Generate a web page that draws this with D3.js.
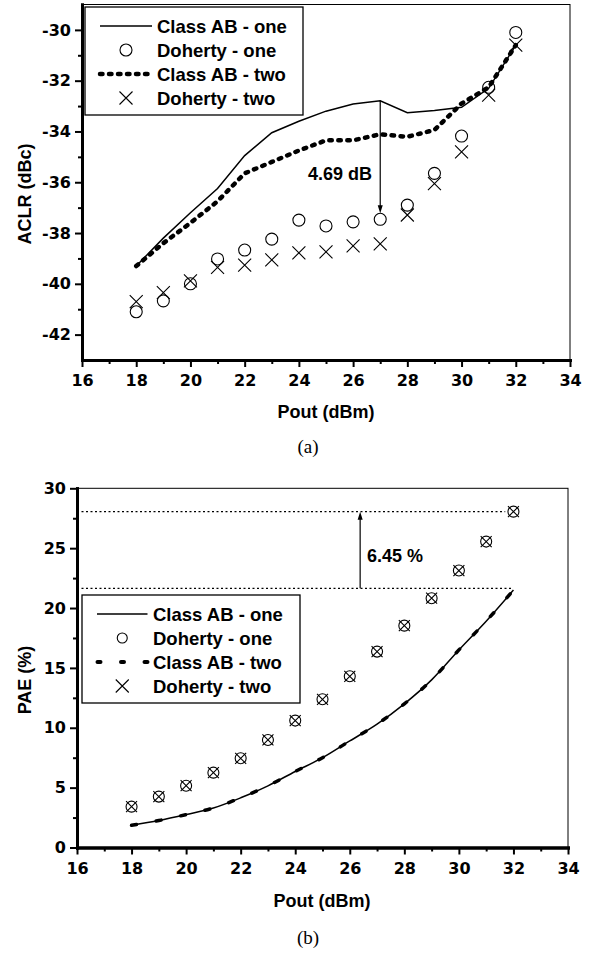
<!DOCTYPE html>
<html>
<head>
<meta charset="utf-8">
<script src="https://cdn.jsdelivr.net/npm/d3@7"></script>
<style>
body { margin: 0; background: #fff; }
svg text { font-family: "Liberation Sans", Arial, sans-serif; font-weight: bold; font-size: 18px; fill: #000; }
svg .tick text { font-family: "DejaVu Sans", sans-serif; font-size: 16px; }
svg text.legend-label { font-size: 18.5px; }
svg text.caption { font-family: "Liberation Serif", "Times New Roman", serif; font-weight: normal; font-size: 19px; }
</style>
</head>
<body>
<svg id="fig" width="590" height="954"></svg>
<script>
// Output power (dBm), shared by both panels
const pout = [18, 19, 20, 21, 22, 23, 24, 25, 26, 27, 28, 29, 30, 31, 32];

// (a) ACLR (dBc)
const aclrClassAbOne = [-39.3, -38.2, -37.2, -36.25, -34.95, -34.05, -33.6, -33.2, -32.92, -32.79, -33.26, -33.17, -33.05, -32.3, -30.6];
const aclrDohertyOne = [-41.1, -40.67, -40.0, -39.02, -38.67, -38.24, -37.49, -37.72, -37.56, -37.46, -36.9, -35.65, -34.18, -32.26, -30.1];
const aclrClassAbTwo = [-39.3, -38.4, -37.6, -36.75, -35.65, -35.2, -34.75, -34.35, -34.35, -34.11, -34.21, -33.94, -32.9, -32.26, -30.6];
const aclrDohertyTwo = [-40.7, -40.35, -39.88, -39.35, -39.26, -39.06, -38.78, -38.74, -38.51, -38.43, -37.29, -36.05, -34.8, -32.57, -30.6];

// (b) PAE (%)
const paeClassAbOne = [1.85, 2.25, 2.75, 3.3, 4.15, 5.15, 6.35, 7.5, 8.9, 10.3, 12.0, 14.0, 16.5, 18.9, 21.5];
const paeClassAbTwo = [1.85, 2.25, 2.75, 3.3, 4.15, 5.15, 6.35, 7.5, 8.9, 10.3, 12.0, 14.0, 16.5, 18.9, 21.5];
const paeDohertyOne = [3.41, 4.25, 5.16, 6.25, 7.45, 8.98, 10.6, 12.38, 14.3, 16.36, 18.53, 20.82, 23.13, 25.55, 28.05];
const paeDohertyTwo = [3.41, 4.25, 5.16, 6.25, 7.45, 8.98, 10.6, 12.38, 14.3, 16.36, 18.53, 20.82, 23.13, 25.55, 28.05];

// tick values
const xMajorTicks = [16, 18, 20, 22, 24, 26, 28, 30, 32, 34];
const xMinorTicks = [17, 19, 21, 23, 25, 27, 29, 31, 33];
const aclrMajorTicks = [-42, -40, -38, -36, -34, -32, -30];
const aclrMinorTicks = [-41, -39, -37, -35, -33, -31];
const paeMajorTicks = [0, 5, 10, 15, 20, 25, 30];
const paeMinorTicks = [2.5, 7.5, 12.5, 17.5, 22.5, 27.5];

const legendLabels = ["Class AB - one", "Doherty - one", "Class AB - two", "Doherty - two"];

// annotations: [x, from, to]
const aclrGap = [27, -32.79, -37.46];
const paeGap = [26.38, 21.65, 28.05];

const svg = d3.select("#fig");

function drawAxes(cfg) {
    const x = d3.scaleLinear().domain(cfg.xDomain).range(cfg.xRange);
    const y = d3.scaleLinear().domain(cfg.yDomain).range(cfg.yRange);
    const g = svg.append("g");

    // thin frame for top / right
    g.append("rect")
        .attr("x", cfg.xRange[0])
        .attr("y", cfg.yRange[1])
        .attr("width", cfg.xRange[1] - cfg.xRange[0])
        .attr("height", cfg.yRange[0] - cfg.yRange[1])
        .attr("fill", "none")
        .attr("stroke", "#000")
        .attr("stroke-width", 1);

    const fmt = d => String(d);
    const bottom = y.range()[0], left = x.range()[0];

    g.append("g").attr("transform", `translate(0,${bottom})`)
        .call(d3.axisBottom(x).tickValues(xMinorTicks).tickSize(4).tickSizeOuter(0).tickFormat(""));
    g.append("g").attr("transform", `translate(${left},0)`)
        .call(d3.axisLeft(y).tickValues(cfg.yMinor).tickSize(4).tickSizeOuter(0).tickFormat(""));
    g.append("g").attr("transform", `translate(0,${bottom})`)
        .call(d3.axisBottom(x).tickValues(xMajorTicks).tickSize(7).tickPadding(8).tickSizeOuter(0).tickFormat(fmt));
    g.append("g").attr("transform", `translate(${left},0)`)
        .call(d3.axisLeft(y).tickValues(cfg.yMajor).tickSize(7).tickPadding(4).tickSizeOuter(0).tickFormat(fmt));

    g.selectAll(".domain").attr("stroke-width", 3).attr("stroke-linecap", "square");
    g.selectAll(".tick line").attr("stroke-width", 2);

    // axis titles
    g.append("text")
        .attr("x", cfg.xTitle[0]).attr("y", cfg.xTitle[1])
        .attr("text-anchor", "middle")
        .text("Pout (dBm)");
    g.append("text")
        .attr("transform", `translate(${cfg.yTitle[0]},${cfg.yTitle[1]}) rotate(-90)`)
        .attr("text-anchor", "middle")
        .text(cfg.yLabel);
    g.append("text")
        .classed("caption", true)
        .attr("x", cfg.caption[0]).attr("y", cfg.caption[1])
        .attr("text-anchor", "middle")
        .text(cfg.captionText);

    return {x, y};
}

function circleMarks(pts, r) {
    svg.append("g").selectAll("circle").data(pts).join("circle")
        .attr("cx", d => d[0]).attr("cy", d => d[1]).attr("r", r)
        .attr("fill", "none").attr("stroke", "#000").attr("stroke-width", 1.1);
}

function crossMarks(pts, s) {
    svg.append("g").selectAll("path").data(pts).join("path")
        .attr("d", d => `M${d[0] - s},${d[1] - s}L${d[0] + s},${d[1] + s}M${d[0] - s},${d[1] + s}L${d[0] + s},${d[1] - s}`)
        .attr("fill", "none").attr("stroke", "#000").attr("stroke-width", 1.1);
}

function legend(box, rows, textX, sampleX, styles) {
    const g = svg.append("g");
    g.append("rect")
        .attr("x", box[0]).attr("y", box[1])
        .attr("width", box[2] - box[0]).attr("height", box[3] - box[1])
        .attr("fill", "#fff").attr("stroke", "#000").attr("stroke-width", 1.3);
    const mid = (sampleX[0] + sampleX[1]) / 2;
    legendLabels.forEach((label, i) => {
        const yy = rows[i];
        const st = styles[i];
        if (st.type === "line") {
            g.append("line")
                .attr("x1", st.x0 || sampleX[0]).attr("x2", sampleX[1])
                .attr("y1", yy).attr("y2", yy)
                .attr("stroke", "#000")
                .attr("stroke-width", st.width)
                .attr("stroke-dasharray", st.dash || null)
                .attr("stroke-linecap", st.cap || "butt");
        } else if (st.type === "circle") {
            g.append("circle").attr("cx", mid).attr("cy", yy).attr("r", st.size)
                .attr("fill", "none").attr("stroke", "#000").attr("stroke-width", 1.1);
        } else {
            const s = st.size;
            g.append("path")
                .attr("d", `M${mid - s},${yy - s}L${mid + s},${yy + s}M${mid - s},${yy + s}L${mid + s},${yy - s}`)
                .attr("stroke", "#000").attr("stroke-width", 1.1);
        }
        g.append("text").classed("legend-label", true)
            .attr("x", textX).attr("y", yy + 6.5).text(label);
    });
}

function arrow(x0, y0, y1) {
    // vertical line from y0 to y1 with head at y1
    const dir = y1 > y0 ? 1 : -1;
    svg.append("line")
        .attr("x1", x0).attr("x2", x0).attr("y1", y0).attr("y2", y1 - dir * 4)
        .attr("stroke", "#000").attr("stroke-width", 1.2);
    svg.append("path")
        .attr("d", `M${x0},${y1}L${x0 - 2.5},${y1 - dir * 8}L${x0 + 2.5},${y1 - dir * 8}Z`)
        .attr("fill", "#000");
}

// ---------- panel (a) ----------
const a = drawAxes({
    xDomain: [16, 34], xRange: [82, 570],
    yDomain: [-43, -29], yRange: [360, 4.5],
    yMajor: aclrMajorTicks, yMinor: aclrMinorTicks,
    xTitle: [326, 418], yTitle: [31, 194], yLabel: "ACLR (dBc)",
    caption: [308, 453], captionText: "(a)"
});

const lineA = d3.line().x(d => a.x(d[0])).y(d => a.y(d[1]));
svg.append("path")
    .datum(pout.map((p, i) => [p, aclrClassAbOne[i]]))
    .attr("d", lineA)
    .attr("fill", "none").attr("stroke", "#000").attr("stroke-width", 1.5);
svg.append("path")
    .datum(pout.map((p, i) => [p, aclrClassAbTwo[i]]))
    .attr("d", lineA)
    .attr("fill", "none").attr("stroke", "#000").attr("stroke-width", 4.5)
    .attr("stroke-dasharray", "2.5,6.5").attr("stroke-linecap", "round");
circleMarks(pout.map((p, i) => [a.x(p), a.y(aclrDohertyOne[i])]), 6);
crossMarks(pout.map((p, i) => [a.x(p), a.y(aclrDohertyTwo[i])]), 6.5);

arrow(a.x(aclrGap[0]), a.y(aclrGap[1]), a.y(aclrGap[2]) - 6);
svg.append("text")
    .attr("x", 372).attr("y", 179.5)
    .attr("text-anchor", "end")
    .text("4.69 dB");

legend([85, 7, 303, 115], [26, 50, 74, 98], 157, [100, 152], [
    {type: "line", width: 1.5},
    {type: "circle", size: 6},
    {type: "line", width: 4.5, dash: "2.5,6.5", cap: "round"},
    {type: "cross", size: 6.5}
]);

// ---------- panel (b) ----------
const b = drawAxes({
    xDomain: [16, 34], xRange: [77, 568],
    yDomain: [0, 30], yRange: [847.5, 488.3],
    yMajor: paeMajorTicks, yMinor: paeMinorTicks,
    xTitle: [322, 907], yTitle: [31, 680], yLabel: "PAE (%)",
    caption: [308, 944], captionText: "(b)"
});

// reference dotted lines
svg.append("line")
    .attr("x1", b.x(16)).attr("x2", b.x(31.7))
    .attr("y1", b.y(paeGap[2])).attr("y2", b.y(paeGap[2]))
    .attr("stroke", "#000").attr("stroke-width", 1.2).attr("stroke-dasharray", "2,2.5");
svg.append("line")
    .attr("x1", b.x(16)).attr("x2", b.x(32))
    .attr("y1", b.y(paeGap[1])).attr("y2", b.y(paeGap[1]))
    .attr("stroke", "#000").attr("stroke-width", 1.2).attr("stroke-dasharray", "2,2.5");
arrow(b.x(paeGap[0]), b.y(paeGap[1]), b.y(paeGap[2]));
svg.append("text")
    .attr("x", 367).attr("y", 561.5)
    .text("6.45 %");

const lineB = d3.line().x(d => b.x(d[0])).y(d => b.y(d[1])).curve(d3.curveMonotoneX);
svg.append("path")
    .datum(pout.map((p, i) => [p, paeClassAbOne[i]]))
    .attr("d", lineB)
    .attr("fill", "none").attr("stroke", "#000").attr("stroke-width", 1.5);
svg.append("path")
    .datum(pout.map((p, i) => [p, paeClassAbTwo[i]]))
    .attr("d", lineB)
    .attr("fill", "none").attr("stroke", "#000").attr("stroke-width", 3.5)
    .attr("stroke-dasharray", "5,20").attr("stroke-linecap", "round");
circleMarks(pout.map((p, i) => [b.x(p), b.y(paeDohertyOne[i])]), 5.5);
crossMarks(pout.map((p, i) => [b.x(p), b.y(paeDohertyTwo[i])]), 5.5);

legend([82, 595, 300, 703], [614, 638, 662, 686], 153, [97, 147.5], [
    {type: "line", width: 1.5},
    {type: "circle", size: 5},
    {type: "line", width: 4, dash: "3,20.5", cap: "round", x0: 97.5},
    {type: "cross", size: 6.5}
]);
</script>
</body>
</html>
